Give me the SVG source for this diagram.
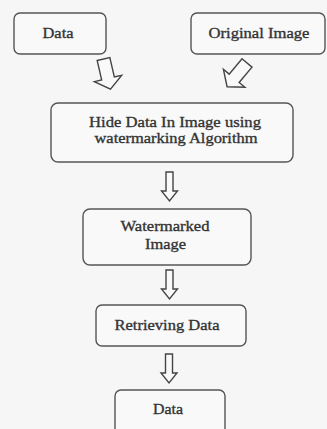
<svg xmlns="http://www.w3.org/2000/svg" xmlns:xlink="http://www.w3.org/1999/xlink" width="327" height="429" viewBox="0 0 327 429">
  <style>
    .box { fill: #f9f9f9; stroke: #555555; stroke-width: 1.4; }
    .lbl { font-family: "Liberation Serif", "Times New Roman", serif; font-size: 15.5px; font-weight: normal; fill: #333333; stroke: #333333; stroke-width: 0.35; text-anchor: middle; }
    .arr { fill: #f9f9f9; stroke: #444444; stroke-width: 1.4; stroke-linejoin: miter; }
  </style>
  <defs>
    <path id="downArrow" d="M-3.5,0 H3.5 V19 H8 L0,29 L-8,19 H-3.5 Z"/>
    <path id="bigArrow" d="M-6.5,0 H6.5 V20 H14 L0,31 L-14,20 H-6.5 Z"/>
  </defs>
  <rect width="327" height="429" fill="#f6f6f6"/>

  <g id="node-data-in">
    <rect class="box" x="14" y="13" width="92" height="41" rx="6"/>
    <text class="lbl" x="58" y="38" textLength="31" lengthAdjust="spacingAndGlyphs">Data</text>
  </g>
  <g id="node-original-image">
    <rect class="box" x="191" y="13" width="134" height="41" rx="6"/>
    <text class="lbl" x="259" y="38" textLength="101" lengthAdjust="spacingAndGlyphs">Original Image</text>
  </g>
  <g id="node-hide">
    <rect class="box" x="51" y="103" width="242" height="59" rx="7"/>
    <text class="lbl" x="175" y="127" textLength="172" lengthAdjust="spacingAndGlyphs">Hide Data In Image using</text>
    <text class="lbl" x="176" y="143" textLength="163" lengthAdjust="spacingAndGlyphs">watermarking Algorithm</text>
  </g>
  <g id="node-watermarked">
    <rect class="box" x="83" y="209" width="168" height="56" rx="7"/>
    <text class="lbl" x="165" y="231" textLength="89" lengthAdjust="spacingAndGlyphs">Watermarked</text>
    <text class="lbl" x="165.5" y="249" textLength="41" lengthAdjust="spacingAndGlyphs">Image</text>
  </g>
  <g id="node-retrieving">
    <rect class="box" x="96" y="305" width="150" height="41" rx="6"/>
    <text class="lbl" x="167" y="330" textLength="105" lengthAdjust="spacingAndGlyphs">Retrieving Data</text>
  </g>
  <g id="node-data-out">
    <rect class="box" x="115" y="390" width="110" height="50" rx="6"/>
    <text class="lbl" x="168" y="414" textLength="30" lengthAdjust="spacingAndGlyphs">Data</text>
  </g>

  <g id="connectors">
    <use xlink:href="#bigArrow" class="arr" transform="translate(103.5,59) rotate(-13)"/>
    <use xlink:href="#bigArrow" class="arr" transform="translate(247,63) rotate(40)"/>
    <use xlink:href="#downArrow" class="arr" transform="translate(169.5,172)"/>
    <use xlink:href="#downArrow" class="arr" transform="translate(169.5,270)"/>
    <use xlink:href="#downArrow" class="arr" transform="translate(169,354)"/>
  </g>
</svg>
